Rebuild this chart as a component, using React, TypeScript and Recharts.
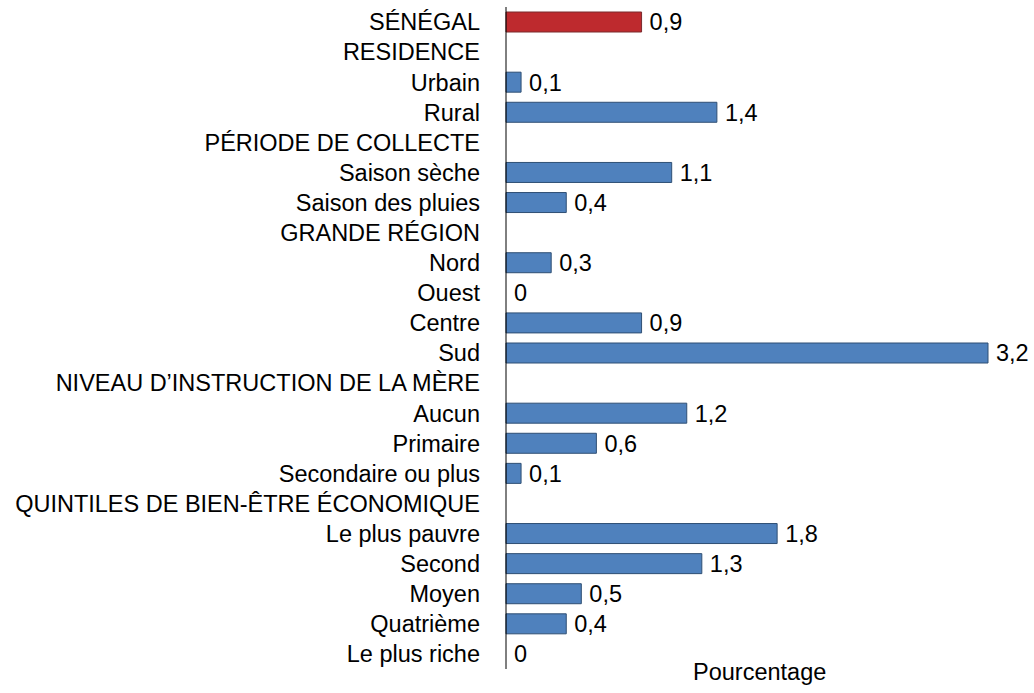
import { BarChart, Bar, XAxis, YAxis, Cell, LabelList } from "recharts";

// Libellés des lignes (les en-têtes de groupe n'ont pas de valeur)
const CATEGORIES = [
  "SÉNÉGAL",
  "RESIDENCE",
  "Urbain",
  "Rural",
  "PÉRIODE DE COLLECTE",
  "Saison sèche",
  "Saison des pluies",
  "GRANDE RÉGION",
  "Nord",
  "Ouest",
  "Centre",
  "Sud",
  "NIVEAU D’INSTRUCTION DE LA MÈRE",
  "Aucun",
  "Primaire",
  "Secondaire ou plus",
  "QUINTILES DE BIEN-ÊTRE ÉCONOMIQUE",
  "Le plus pauvre",
  "Second",
  "Moyen",
  "Quatrième",
  "Le plus riche",
];

const VALUES: (number | null)[] = [
  0.9,
  null,
  0.1,
  1.4,
  null,
  1.1,
  0.4,
  null,
  0.3,
  0,
  0.9,
  3.2,
  null,
  1.2,
  0.6,
  0.1,
  null,
  1.8,
  1.3,
  0.5,
  0.4,
  0,
];

const X_DOMAIN = [0, 3.2];

const FONT = "'Liberation Sans', Arial, sans-serif";
const FONT_SIZE = 23.5;
const RED = "#BE2A2E";
const BLUE = "#4F81BD";

const data = CATEGORIES.map((name, i) => ({ name, value: VALUES[i] }));

// 0.9 → "0,9"
const fmt = (v: unknown) =>
  v == null || v === "" ? "" : String(v).replace(".", ",");

export default function App() {
  return (
    <div
      style={{
        position: "absolute",
        left: 0,
        top: 0,
        width: 1034,
        height: 693,
        background: "#fff",
        fontFamily: FONT,
      }}
    >
      <BarChart
        width={1034}
        height={693}
        data={data}
        layout="vertical"
        margin={{ top: 7, right: 46, bottom: 24, left: 0 }}
        barSize={20}
      >
        <XAxis type="number" domain={X_DOMAIN} hide />
        <YAxis
          type="category"
          dataKey="name"
          width={506}
          interval={0}
          tickLine={false}
          tickSize={0}
          tickMargin={26}
          axisLine={{ stroke: "#000", strokeWidth: 1 }}
          tick={{ fill: "#000", fontSize: FONT_SIZE, fontFamily: FONT }}
        />
        {/* minPointSize minuscule pour que les valeurs nulles (0) gardent leur étiquette */}
        <Bar
          dataKey="value"
          isAnimationActive={false}
          strokeWidth={1}
          minPointSize={(v: number) => (v === 0 ? 0.01 : 0)}
        >
          {data.map((d, i) => (
            <Cell
              key={d.name}
              fill={d.value === 0 ? "transparent" : i === 0 ? RED : BLUE}
              stroke={d.value === 0 ? "none" : i === 0 ? "#7A2A2C" : "#2F4F74"}
            />
          ))}
          <LabelList
            dataKey="value"
            position="right"
            offset={8}
            formatter={fmt}
            style={{ fill: "#000", fontSize: FONT_SIZE, fontFamily: FONT }}
          />
        </Bar>
      </BarChart>
      <div
        style={{
          position: "absolute",
          left: 693,
          top: 661,
          fontSize: FONT_SIZE,
          lineHeight: 1,
          color: "#000",
          fontFamily: FONT,
        }}
      >
        Pourcentage
      </div>
    </div>
  );
}
